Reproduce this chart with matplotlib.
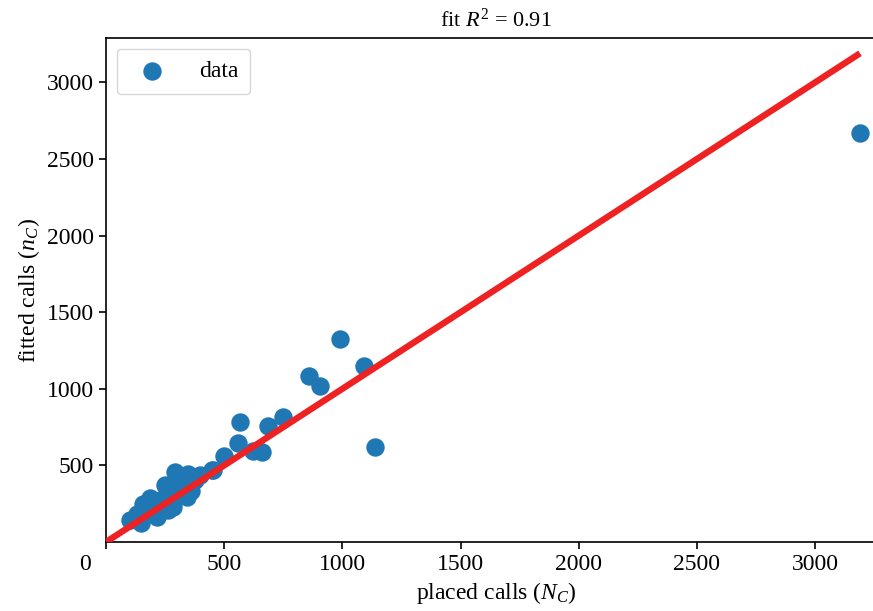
import matplotlib
matplotlib.use("Agg")
import matplotlib.pyplot as plt
import matplotlib.transforms as mtrans
import numpy as np

plt.rcParams['font.family'] = ['Liberation Serif', 'DejaVu Serif']
plt.rcParams['mathtext.fontset'] = 'custom'
plt.rcParams['mathtext.rm'] = 'Liberation Serif'
plt.rcParams['mathtext.it'] = 'Liberation Serif:italic'

placed = [102, 131, 157, 186, 148, 216, 229, 250, 292, 284, 292, 347, 398, 343,
          453, 262, 199, 313, 377, 170, 240, 320, 360, 270,
          499, 449, 559, 567, 622, 660, 686, 749, 859, 906, 990, 1092, 1138, 3190]
fitted = [141, 186, 251, 285, 121, 160, 271, 369, 356, 226, 454, 441, 435, 291,
          467, 206, 193, 415, 402, 230, 250, 380, 330, 300,
          559, 467, 643, 786, 591, 585, 754, 813, 1081, 1016, 1328, 1146, 618, 2667]

fig = plt.figure(figsize=(8.73, 6.11), dpi=100)
ax = fig.add_axes([106/873, 1-542/611, 780/873, (542-38)/611])

ax.scatter(placed, fitted, s=150, color='#1f77b4', label='data', zorder=2)
xmax = max(placed)
ax.plot([0, xmax], [0, xmax], color='#ee2222', lw=4.6, zorder=3, solid_capstyle='butt')

ax.set_xlim(0, 3300)
ax.set_ylim(0, 3290)
ax.set_xticks([0, 500, 1000, 1500, 2000, 2500, 3000])
ax.set_yticks([500, 1000, 1500, 2000, 2500, 3000])
ax.tick_params(axis='both', labelsize=17, direction='out', length=5, width=1.2)
fig.canvas.draw()
off = mtrans.ScaledTranslation(-0.21, 0, fig.dpi_scale_trans)
for lbl in ax.get_xticklabels():
    if lbl.get_text() == '0':
        lbl.set_transform(lbl.get_transform() + off)
ax.spines['right'].set_visible(False)
for s in ['left', 'bottom', 'top']:
    ax.spines[s].set_linewidth(1.2)

ax.set_xlabel(r'placed calls ($N_C$)', fontsize=17, labelpad=4)
ax.set_ylabel(r'fitted calls ($n_C$)', fontsize=17)
ax.set_title(r'fit $R^2$ = 0.91', fontsize=16, pad=8)
ax.legend(loc='upper left', fontsize=17, markerscale=1.0, borderpad=0.5,
          handletextpad=1.0, borderaxespad=0.45)

fig.savefig('out.png', dpi=100)
